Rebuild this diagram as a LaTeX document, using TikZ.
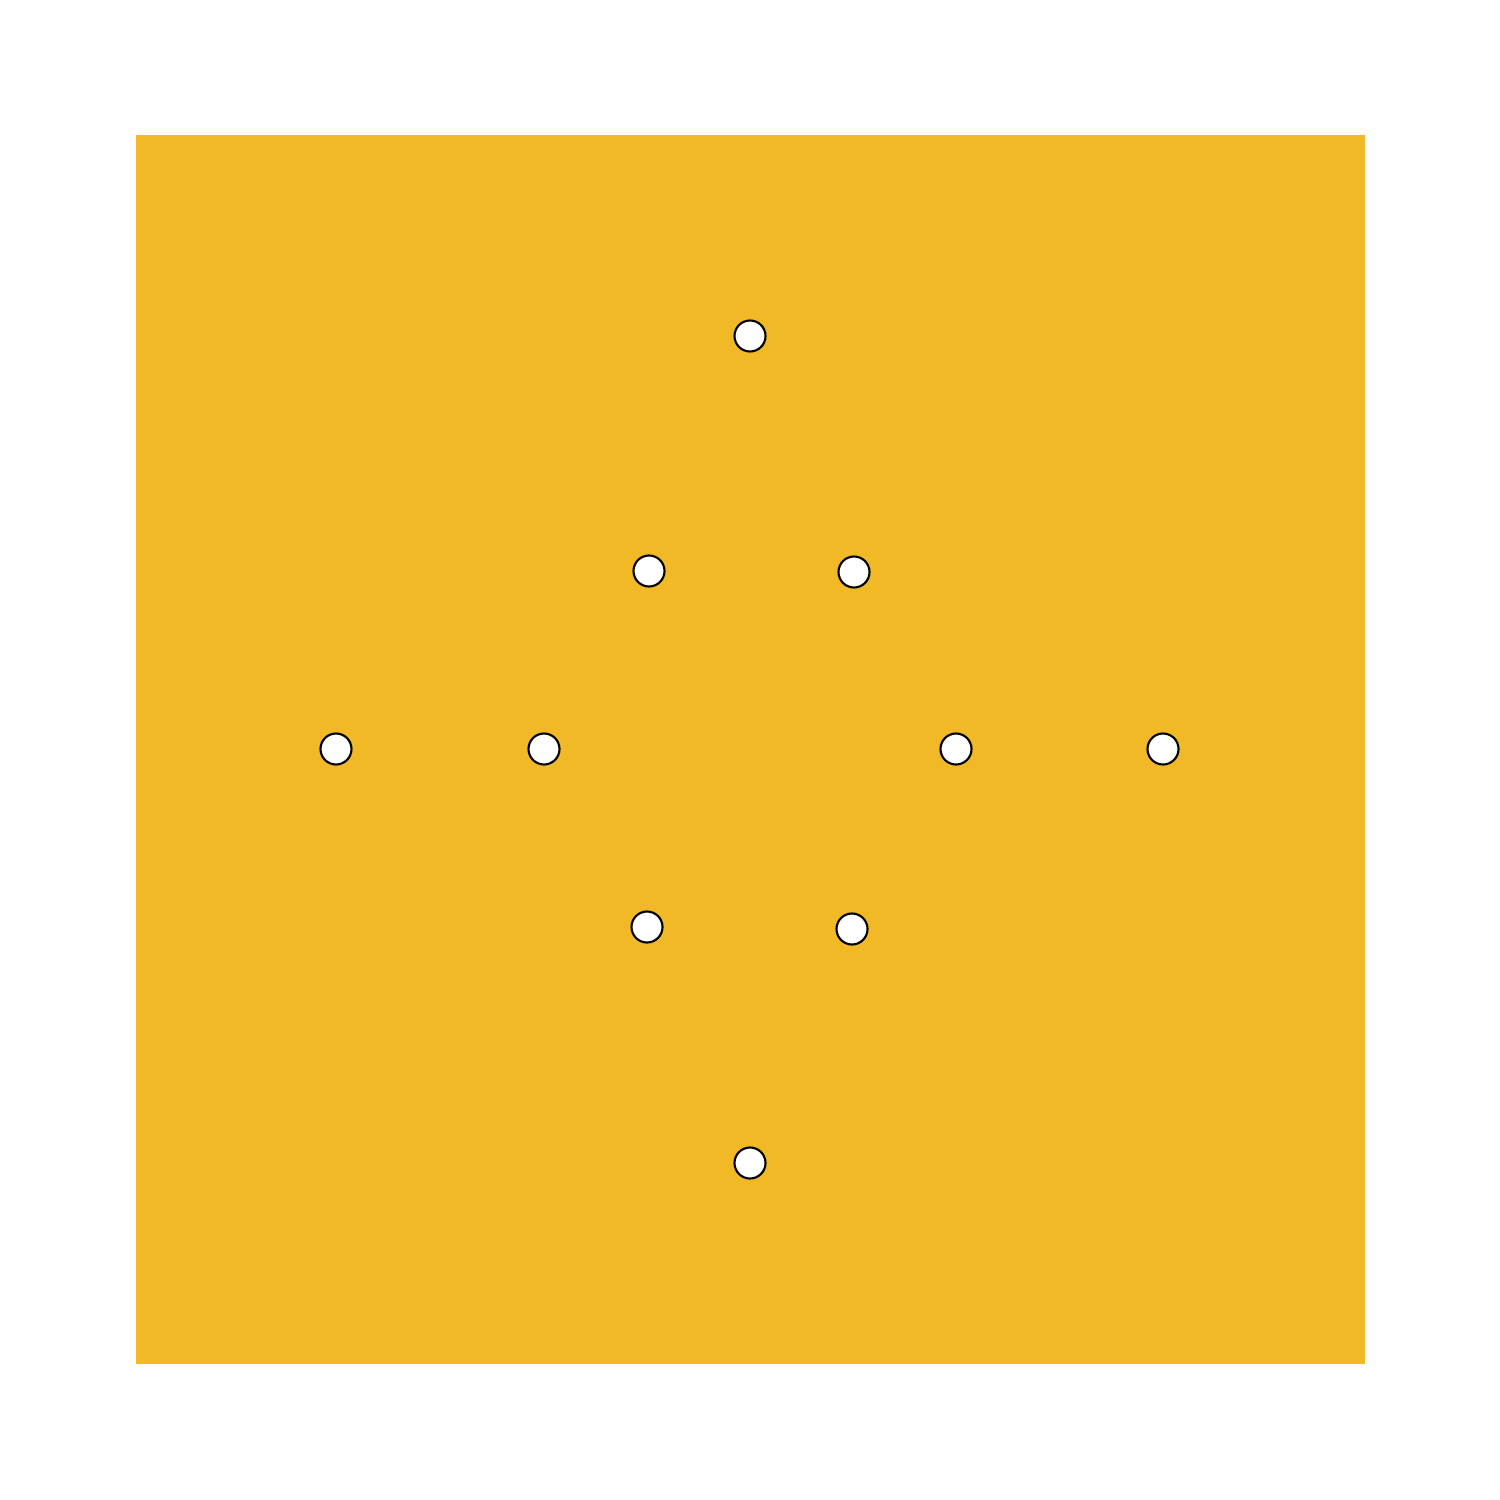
\documentclass[tikz,border=0pt]{standalone}
\definecolor{plate}{HTML}{F0B925}
\begin{document}
\begin{tikzpicture}[x=0.01cm,y=-0.01cm,
  hole/.style={circle,draw=black,line width=0.6pt,fill=white,minimum size=0.31cm,inner sep=0pt}]
\useasboundingbox (0,0) rectangle (1500,1500);
\fill[plate] (136,135) rectangle (1365,1364);
\node[hole] (h1) at (750,336) {};
\node[hole] (h2) at (649,571) {};
\node[hole] (h3) at (854,572) {};
\node[hole] (h4) at (336,749) {};
\node[hole] (h5) at (544,749) {};
\node[hole] (h6) at (956,749) {};
\node[hole] (h7) at (1163,749) {};
\node[hole] (h8) at (647,927) {};
\node[hole] (h9) at (852,929) {};
\node[hole] (h10) at (750,1163) {};
\end{tikzpicture}
\end{document}
